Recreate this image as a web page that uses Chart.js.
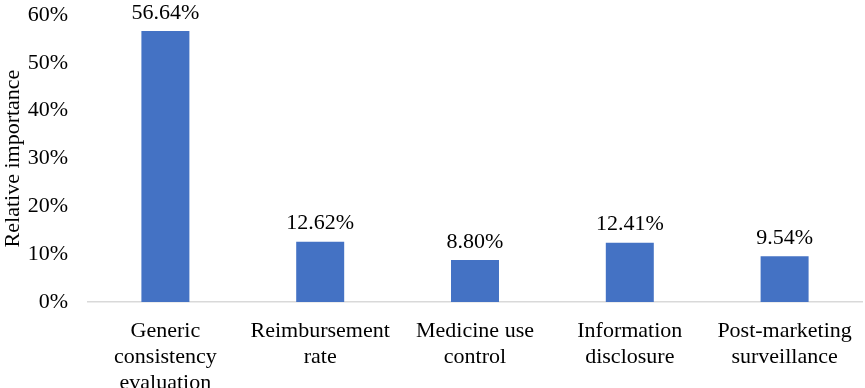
<!DOCTYPE html>
<html>
<head>
<meta charset="utf-8">
<script src="https://cdn.jsdelivr.net/npm/chart.js@4"></script>
<style>
 html,body{margin:0;padding:0;background:#fff;}
 #wrap{width:865px;height:388px;position:relative;}
</style>
</head>
<body>
<div id="wrap"><canvas id="myChart"></canvas></div>
<script>
// chart data
const categories = [
  ['Generic', 'consistency', 'evaluation'],
  ['Reimbursement', 'rate'],
  ['Medicine use', 'control'],
  ['Information', 'disclosure'],
  ['Post-marketing', 'surveillance']
];
const importance = [56.64, 12.62, 8.80, 12.41, 9.54];
const yTicks = [0, 10, 20, 30, 40, 50, 60];

const serif = '"Liberation Serif", "Times New Roman", serif';

// draws the value above each bar
const barLabels = {
  id: 'barLabels',
  afterDatasetsDraw(chart) {
    const ctx = chart.ctx;
    const meta = chart.getDatasetMeta(0);
    ctx.save();
    ctx.font = '22px ' + serif;
    ctx.fillStyle = '#000';
    ctx.textAlign = 'center';
    ctx.textBaseline = 'bottom';
    meta.data.forEach(function(bar, i){
      ctx.fillText(importance[i].toFixed(2) + '%', bar.x, bar.y - 7);
    });
    ctx.restore();
  }
};

const ctx = document.getElementById('myChart');
new Chart(ctx, {
  type: 'bar',
  data: {
    labels: categories,
    datasets: [{
      data: importance,
      backgroundColor: '#4472C4',
      categoryPercentage: 1,
      barPercentage: 0.31
    }]
  },
  options: {
    responsive: true,
    maintainAspectRatio: false,
    animation: false,
    layout: { padding: { top: 15, right: 3, left: 0, bottom: 0 } },
    plugins: { legend: { display: false }, tooltip: { enabled: false } },
    scales: {
      x: {
        grid: { display: false },
        border: { display: true, color: '#d9d9d9', width: 1.5 },
        ticks: {
          color: '#000',
          font: { family: serif, size: 22, lineHeight: 1.18 },
          padding: 8,
          maxRotation: 0,
          autoSkip: false
        },
        afterFit: function(scale){
          scale.height = 86;
          scale.paddingLeft = 0;
          scale.paddingRight = 0;
        }
      },
      y: {
        min: 0,
        max: 60,
        afterBuildTicks: function(scale){
          scale.ticks = yTicks.map(function(v){ return { value: v }; });
        },
        grid: { display: false },
        border: { display: false },
        ticks: {
          color: '#000',
          font: { family: serif, size: 22 },
          padding: 12,
          callback: function(v){ return v + '%'; }
        },
        title: {
          display: true,
          text: 'Relative importance',
          color: '#000',
          font: { family: serif, size: 22 },
          padding: { top: 0, bottom: 0 }
        },
        afterFit: function(scale){
          scale.width = 88;
          scale.paddingTop = 0;
          scale.paddingBottom = 0;
        }
      }
    }
  },
  plugins: [barLabels]
});
</script>
</body>
</html>
